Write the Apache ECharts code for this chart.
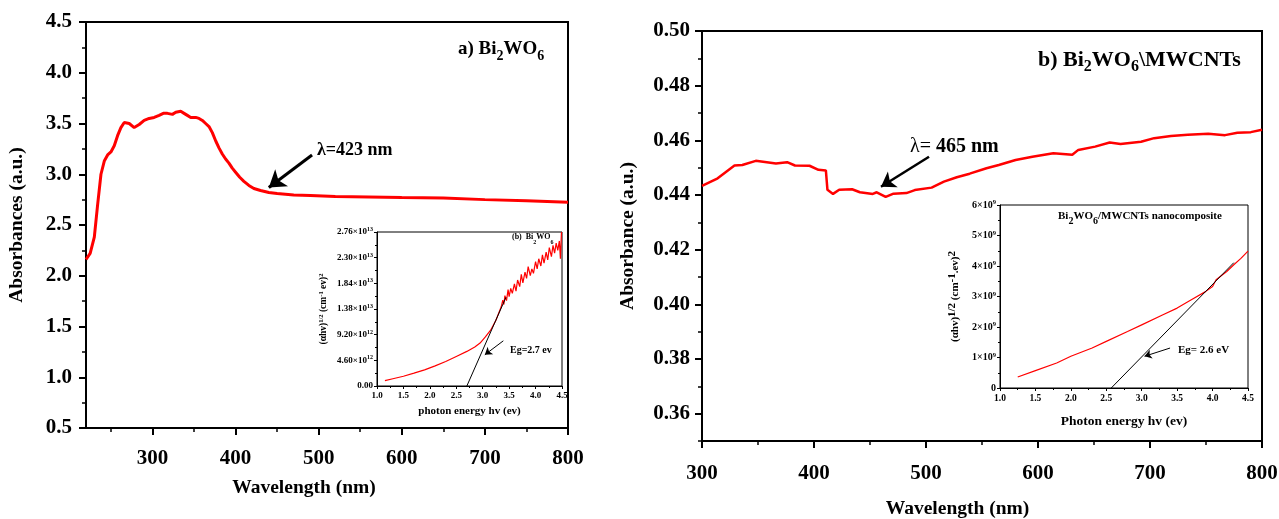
<!DOCTYPE html>
<html><head><meta charset="utf-8">
<script src="https://cdn.jsdelivr.net/npm/echarts@6/dist/echarts.min.js"></script>
<style>html,body{margin:0;padding:0;background:#fff}#c{width:1279px;height:519px}</style>
</head><body><div id="c"></div>
<script>
// ---- Panel a: Bi2WO6 absorbance ----
const wavelengthA = [220,225,230,234,238,242,246,250,254,258,262,266,268,272,278,284,290,296,302,308,313,318,324,328,334,338,342,346,352,356,360,364,368,372,376,380,384,388,392,396,400,405,410,416,422,430,440,450,470,490,520,560,600,650,700,750,800];
const absorbanceA = [2.16,2.22,2.38,2.7,3.0,3.13,3.19,3.22,3.28,3.38,3.46,3.51,3.52,3.5,3.46,3.49,3.53,3.55,3.56,3.58,3.6,3.6,3.59,3.61,3.62,3.6,3.58,3.56,3.56,3.55,3.53,3.5,3.47,3.41,3.33,3.26,3.2,3.15,3.11,3.06,3.02,2.97,2.93,2.89,2.86,2.84,2.82,2.81,2.795,2.79,2.78,2.775,2.77,2.765,2.75,2.74,2.725];
const ticksAx = [300,400,500,600,700,800];
const minorAx = [250,350,450,550,650,750];
const arrowA = [[492,3.19],[440,2.87]];

// ---- Panel b: Bi2WO6/MWCNTs absorbance ----
const wavelengthB = [300,314,329,336,348,366,376,383,396,404,410.6,412,417,422.5,434,441,452.5,456,464,471,482.5,490,505,516,527.5,539,554,565,580,595,613.7,625,630.6,636,651,664,673.7,692,703.7,718.7,733.7,752,767,778,790,800];
const absorbanceB = [0.4433,0.4461,0.4508,0.451,0.4525,0.4515,0.452,0.4508,0.4507,0.4492,0.449,0.4419,0.4404,0.4419,0.4421,0.441,0.4404,0.441,0.4393,0.4405,0.4407,0.4418,0.4427,0.4449,0.4465,0.4478,0.4498,0.451,0.4528,0.454,0.4553,0.4549,0.4547,0.4565,0.4577,0.4592,0.4587,0.4595,0.4608,0.4616,0.462,0.4624,0.4619,0.4628,0.463,0.4639];
const ticksBy = [0.36,0.38,0.40,0.42,0.44,0.46,0.48,0.50];
const minorBy = [0.35,0.37,0.39,0.41,0.43,0.45,0.47,0.49];
const arrowB = [[502.7,0.454],[459.8,0.443]];

// ---- Inset a: Tauc plot (x1e12) ----
const energyA = [1.15,1.3,1.5,1.7,1.9,2.1,2.3,2.5,2.7,2.85,2.95,3.05,3.15,3.25,3.3,3.35,3.38,3.4,3.42,3.45,3.48,3.5,3.53,3.56,3.6,3.63,3.66,3.7,3.73,3.76,3.8,3.83,3.86,3.9,3.93,3.96,4.0,4.03,4.06,4.1,4.13,4.16,4.2,4.23,4.26,4.3,4.33,4.36,4.39,4.42,4.45,4.47,4.49];
const taucA = [0.95,1.3,1.75,2.3,2.9,3.6,4.4,5.3,6.2,7.0,7.7,8.8,10.0,11.8,13.0,14.2,15.4,14.6,16.2,15.3,17.3,16.0,17.5,16.6,18.3,17.0,19.0,17.8,20.0,18.5,20.4,19.3,21.4,19.8,21.0,20.2,22.3,21.0,22.8,21.5,23.5,22.0,24.0,22.6,24.8,23.2,25.2,23.8,25.6,24.3,26.0,22.8,27.6];
const tangentAx = [2.7,3.44];
const tangentAy = [0,15.9];
const insetAYLabels = ['0.00','4.60×10{s|12}','9.20×10{s|12}','1.38×10{s|13}','1.84×10{s|13}','2.30×10{s|13}','2.76×10{s|13}'];
const arrowEgA = [[3.39,8.1],[3.04,5.6]];

// ---- Inset b: Tauc plot (x1e9) ----
const energyB = [1.25,1.5,1.8,2.0,2.3,2.5,2.8,3.0,3.3,3.5,3.7,3.9,4.0,4.05,4.2,4.3,4.4,4.5];
const taucB = [0.36,0.57,0.82,1.04,1.31,1.53,1.85,2.07,2.4,2.62,2.89,3.16,3.33,3.55,3.82,4.04,4.25,4.49];
const tangentBx = [2.57,4.3];
const tangentBy = [0,4.11];
const insetBYLabels = ['0','1×10{s|9}','2×10{s|9}','3×10{s|9}','4×10{s|9}','5×10{s|9}','6×10{s|9}'];
const arrowEgB = [[3.40,1.31],[3.04,1.04]];

const F = 'Liberation Serif';
const pairs = (xs, ys) => xs.map((x, i) => [x, ys[i]]);
const supRich = (fs, lh) => ({ s: { fontSize: fs, fontWeight: 'bold', fontFamily: F, color: '#000', lineHeight: lh, verticalAlign: 'top' } });

function arrowLine(pts, w, size) {
  return {
    silent: true, symbol: ['none', 'arrow'], symbolSize: size, animation: false,
    lineStyle: { color: '#000', width: w, type: 'solid' }, label: { show: false },
    data: [[{ coord: pts[0] }, { coord: pts[1] }]]
  };
}

const mainAxisLine = { show: true, lineStyle: { color: '#000', width: 2 } };
const insetAxisLine = { show: true, lineStyle: { color: '#000', width: 1 } };

function titleRich(parts, fs, x, y, subRatio) {
  const L = fs + 4;
  const drop = Math.round(fs * 0.28);
  const subFs = Math.round(fs * (subRatio || 0.72));
  return {
    left: x, top: y, text: parts,
    textStyle: {
      fontFamily: F, fontSize: fs, fontWeight: 'bold', color: '#000',
      rich: {
        t: { fontFamily: F, fontSize: fs, fontWeight: 'bold', color: '#000', lineHeight: L, verticalAlign: 'top' },
        n: { fontFamily: F, fontSize: fs, fontWeight: 'normal', color: '#000', lineHeight: L, verticalAlign: 'top' },
        sub: { fontFamily: F, fontSize: subFs, fontWeight: 'bold', color: '#000', lineHeight: L - 2 * drop, verticalAlign: 'bottom' }
      }
    }
  };
}

const gridBase = { show: true, borderColor: '#000', backgroundColor: 'transparent', containLabel: false, outerBoundsMode: 'none' };

const chart = echarts.init(document.getElementById('c'), null, { renderer: 'canvas' });
chart.setOption({
  animation: false,
  backgroundColor: '#fff',
  title: [
    titleRich('{t|a) Bi}{sub|2}{t|WO}{sub|6}', 19, 453, 35),
    titleRich('{t|λ=423 nm}', 18, 312, 136),
    titleRich('{t|b) Bi}{sub|2}{t|WO}{sub|6}{t|\\MWCNTs}', 22, 1033, 44),
    titleRich('{n|λ=}{t| 465 nm}', 20, 905, 132),
    titleRich('{t|(b)  Bi}{sub|2}{t|WO}{sub|6}', 8, 507, 228, 0.8),
    titleRich('{t|Eg=2.7 ev}', 10, 505, 340),
    titleRich('{t|Bi}{sub|2}{t|WO}{sub|6}{t|/MWCNTs nanocomposite}', 11, 1053, 206, 0.95),
    titleRich('{t|Eg= 2.6 eV}', 11, 1173, 340)
  ],
  grid: [
    Object.assign({ left: 86, right: 711, top: 22, bottom: 91, borderWidth: 2 }, gridBase),
    Object.assign({ left: 702, right: 17, top: 31, bottom: 78, borderWidth: 2 }, gridBase),
    Object.assign({ left: 377, right: 717, top: 232, bottom: 133, borderWidth: 1 }, gridBase),
    Object.assign({ left: 1000, right: 31, top: 205, bottom: 131, borderWidth: 1 }, gridBase)
  ],
  xAxis: [
    { type: 'value', gridIndex: 0, position: 'bottom', min: 220, max: 800, splitLine: { show: false }, axisLine: mainAxisLine,
      axisTick: { show: true, customValues: ticksAx, length: 7, lineStyle: { color: '#000', width: 2 } },
      axisLabel: { customValues: ticksAx, color: '#000', fontFamily: F, fontSize: 21, fontWeight: 'bold', margin: 20 },
      name: 'Wavelength (nm)', nameLocation: 'middle', nameGap: 50,
      nameTextStyle: { fontFamily: F, fontSize: 19.5, fontWeight: 'bold', color: '#000', padding: [0, 46, 0, 0] } },
    { type: 'value', gridIndex: 0, position: 'bottom', min: 220, max: 800, splitLine: { show: false }, axisLine: { show: false },
      axisTick: { show: true, customValues: minorAx, length: 4, lineStyle: { color: '#000', width: 1.5 } },
      axisLabel: { show: false } },
    { type: 'value', gridIndex: 1, position: 'bottom', min: 300, max: 800, interval: 100, splitLine: { show: false }, axisLine: mainAxisLine,
      axisTick: { show: true, length: 7, lineStyle: { color: '#000', width: 2 } },
      minorTick: { show: true, splitNumber: 2, length: 4, lineStyle: { color: '#000', width: 1.5 } },
      axisLabel: { color: '#000', fontFamily: F, fontSize: 21, fontWeight: 'bold', margin: 22 },
      name: 'Wavelength (nm)', nameLocation: 'middle', nameGap: 58,
      nameTextStyle: { fontFamily: F, fontSize: 19.5, fontWeight: 'bold', color: '#000', padding: [0, 49, 0, 0] } },
    { type: 'value', gridIndex: 2, position: 'bottom', min: 1, max: 4.5, interval: 0.5, splitLine: { show: false }, axisLine: insetAxisLine,
      axisTick: { show: true, length: 3, lineStyle: { color: '#000' } },
      minorTick: { show: true, splitNumber: 2, length: 2, lineStyle: { color: '#000' } },
      axisLabel: { color: '#000', fontFamily: F, fontSize: 9, fontWeight: 'bold', margin: 5, formatter: v => v.toFixed(1) },
      name: 'photon energy hv (ev)', nameLocation: 'middle', nameGap: 20,
      nameTextStyle: { fontFamily: F, fontSize: 11, fontWeight: 'bold', color: '#000' } },
    { type: 'value', gridIndex: 3, position: 'bottom', min: 1, max: 4.5, interval: 0.5, splitLine: { show: false }, axisLine: insetAxisLine,
      axisTick: { show: true, length: 3, lineStyle: { color: '#000' } },
      minorTick: { show: true, splitNumber: 2, length: 2, lineStyle: { color: '#000' } },
      axisLabel: { color: '#000', fontFamily: F, fontSize: 9.5, fontWeight: 'bold', margin: 6, formatter: v => v.toFixed(1) },
      name: 'Photon energy hv (ev)', nameLocation: 'middle', nameGap: 27,
      nameTextStyle: { fontFamily: F, fontSize: 13.5, fontWeight: 'bold', color: '#000' } }
  ],
  yAxis: [
    { type: 'value', gridIndex: 0, position: 'left', min: 0.5, max: 4.5, interval: 0.5, splitLine: { show: false }, axisLine: mainAxisLine,
      axisTick: { show: true, length: 7, lineStyle: { color: '#000', width: 2 } },
      minorTick: { show: true, splitNumber: 2, length: 4, lineStyle: { color: '#000', width: 1.5 } },
      axisLabel: { color: '#000', fontFamily: F, fontSize: 21, fontWeight: 'bold', margin: 14, formatter: v => v.toFixed(1) },
      name: 'Absorbances (a.u.)', nameLocation: 'middle', nameGap: 59, nameRotate: 90,
      nameTextStyle: { fontFamily: F, fontSize: 19.5, fontWeight: 'bold', color: '#000' } },
    { type: 'value', gridIndex: 1, position: 'left', min: 0.35, max: 0.50, splitLine: { show: false }, axisLine: mainAxisLine,
      axisTick: { show: true, customValues: ticksBy, length: 7, lineStyle: { color: '#000', width: 2 } },
      axisLabel: { customValues: ticksBy, color: '#000', fontFamily: F, fontSize: 21, fontWeight: 'bold', margin: 12, formatter: v => v.toFixed(2) },
      name: 'Absorbance (a.u.)', nameLocation: 'middle', nameGap: 64, nameRotate: 90,
      nameTextStyle: { fontFamily: F, fontSize: 19.5, fontWeight: 'bold', color: '#000' } },
    { type: 'value', gridIndex: 1, position: 'left', min: 0.35, max: 0.50, splitLine: { show: false }, axisLine: { show: false },
      axisTick: { show: true, customValues: minorBy, length: 4, lineStyle: { color: '#000', width: 1.5 } },
      axisLabel: { show: false } },
    { type: 'value', gridIndex: 2, position: 'left', min: 0, max: 27.6, interval: 4.6, splitLine: { show: false }, axisLine: insetAxisLine,
      axisTick: { show: true, length: 3, lineStyle: { color: '#000' } },
      minorTick: { show: true, splitNumber: 2, length: 2, lineStyle: { color: '#000' } },
      axisLabel: { color: '#000', fontFamily: F, fontSize: 9, fontWeight: 'bold', margin: 4, lineHeight: 11,
        formatter: (v, i) => insetAYLabels[i], rich: supRich(6, 4) },
      name: '(αhv){s|1/2} (cm{s|-1} ev){s|2}', nameLocation: 'middle', nameGap: 47, nameRotate: 90,
      nameTextStyle: { fontFamily: F, fontSize: 9.5, fontWeight: 'bold', color: '#000', lineHeight: 12, rich: supRich(6.5, 4) } },
    { type: 'value', gridIndex: 3, position: 'left', min: 0, max: 6, interval: 1, splitLine: { show: false }, axisLine: insetAxisLine,
      axisTick: { show: true, length: 3, lineStyle: { color: '#000' } },
      minorTick: { show: true, splitNumber: 2, length: 2, lineStyle: { color: '#000' } },
      axisLabel: { color: '#000', fontFamily: F, fontSize: 10, fontWeight: 'bold', margin: 4, lineHeight: 12,
        formatter: (v, i) => insetBYLabels[i], rich: supRich(6.5, 4) },
      name: '(αhv){s|1/2} (cm{s|-1}.ev){s|2}', nameLocation: 'middle', nameGap: 37, nameRotate: 90,
      nameTextStyle: { fontFamily: F, fontSize: 11, fontWeight: 'bold', color: '#000', lineHeight: 16, rich: supRich(11, 5) } }
  ],
  series: [
    { type: 'line', xAxisIndex: 0, yAxisIndex: 0, data: pairs(wavelengthA, absorbanceA), symbol: 'none',
      lineStyle: { color: '#ff0000', width: 3 }, markLine: arrowLine(arrowA, 3, 16) },
    { type: 'line', xAxisIndex: 2, yAxisIndex: 1, data: pairs(wavelengthB, absorbanceB), symbol: 'none',
      lineStyle: { color: '#ff0000', width: 2.5 }, markLine: arrowLine(arrowB, 2.5, 14) },
    { type: 'line', xAxisIndex: 3, yAxisIndex: 3, data: pairs(energyA, taucA), symbol: 'none',
      lineStyle: { color: '#ff0000', width: 1.2 } },
    { type: 'line', xAxisIndex: 3, yAxisIndex: 3, data: pairs(tangentAx, tangentAy), symbol: 'none',
      lineStyle: { color: '#000', width: 1 }, markLine: arrowLine(arrowEgA, 1, 7) },
    { type: 'line', xAxisIndex: 4, yAxisIndex: 4, data: pairs(energyB, taucB), symbol: 'none',
      lineStyle: { color: '#ff0000', width: 1.2 } },
    { type: 'line', xAxisIndex: 4, yAxisIndex: 4, data: pairs(tangentBx, tangentBy), symbol: 'none',
      lineStyle: { color: '#000', width: 1 }, markLine: arrowLine(arrowEgB, 1, 7) }
  ]
});
</script></body></html>
